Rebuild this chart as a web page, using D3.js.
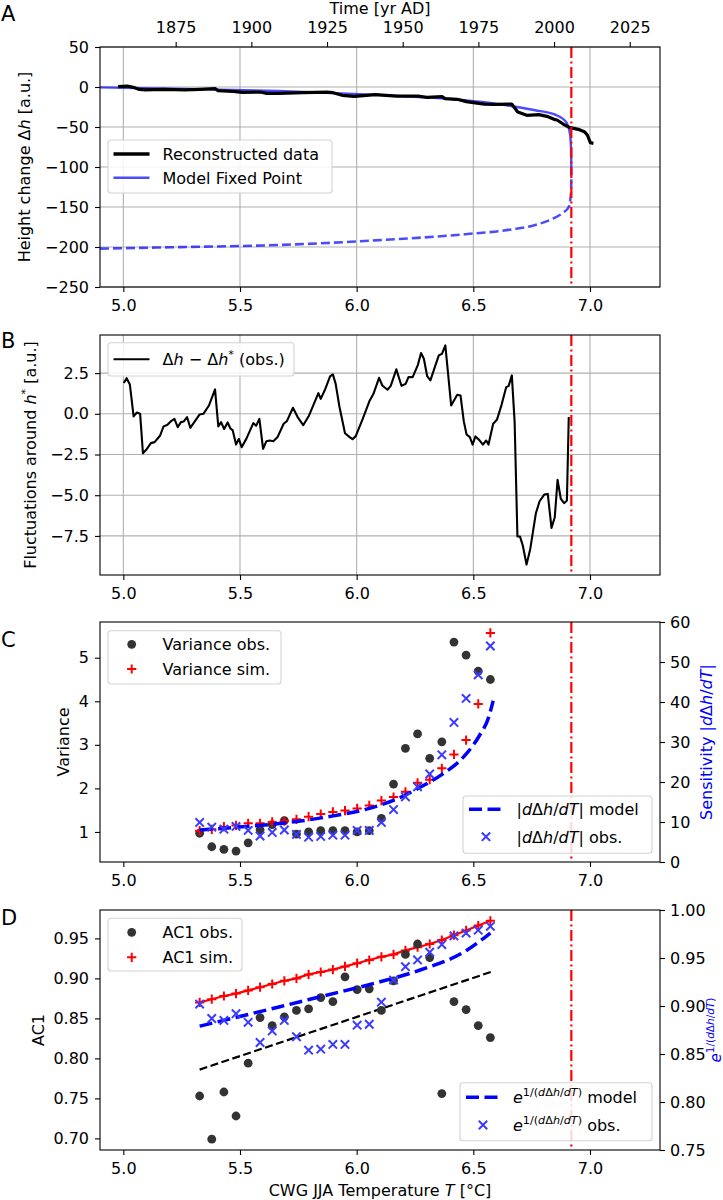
<!DOCTYPE html>
<html><head><meta charset="utf-8">
<script src="https://cdn.jsdelivr.net/npm/d3@7/dist/d3.min.js"></script>
<style>
body{margin:0;background:#fff;}
svg text{font-family:"DejaVu Sans",sans-serif;}
</style></head><body>
<svg id="fig" width="723" height="1200" xmlns="http://www.w3.org/2000/svg"></svg>
<script>
// ---------------- data ----------------
const tempTicks = [5.0, 5.5, 6.0, 6.5, 7.0];
const yearTicks = [1875, 1900, 1925, 1950, 1975, 2000, 2025];
const tippingT = 6.92;
const aTicks = [50, 0, -50, -100, -150, -200, -250];
const bTicks = [2.5, 0, -2.5, -5, -7.5];
const cTicksL = [1, 2, 3, 4, 5];
const cTicksR = [0, 10, 20, 30, 40, 50, 60];
const dTicksL = [0.70, 0.75, 0.80, 0.85, 0.90, 0.95];
const dTicksR = [0.75, 0.80, 0.85, 0.90, 0.95, 1.00];

// Panel A: reconstructed height change (vs. year, top axis)
const reconYear = [1856,1859,1861,1863,1865,1871,1878,1883,1888,1889,1894,1897,1903,1905,1909,1917,1925,1927,1930,1934,1937,1941,1948,1955,1958,1963,1964,1968,1971,1977,1980,1986,1988,1991,1995,1998,2000,2001,2003,2005,2008,2010,2011,2012,2013];
const reconDh = [0.4,1.2,-0.4,-3,-3.7,-3,-3.7,-3,-2,-4.6,-5.4,-6.7,-6.3,-7.9,-7.9,-7.1,-6.3,-7.1,-10.4,-11.7,-10.8,-9.6,-11.3,-11.3,-12.9,-12.1,-14.6,-15.4,-18.3,-21.3,-21.7,-21.3,-31.3,-35.4,-34.6,-37.1,-40.4,-41.3,-46.3,-50.4,-52.9,-55.8,-60,-69.6,-70.4];
// Panel A: model fixed point (vs. temperature)
const fpStableT = [4.9,5.267,5.667,6.066,6.266,6.465,6.565,6.665,6.765,6.845,6.885,6.905,6.915,6.919,6.92];
const fpStableH = [-0.5,-2.5,-5,-9.5,-12.5,-16.5,-19.5,-24,-29,-34,-40,-48,-60,-80,-105];
const fpUnstableT = [4.9,5.267,5.667,6.066,6.465,6.665,6.765,6.845,6.885,6.909,6.915,6.919,6.92];
const fpUnstableH = [-202,-200,-197.5,-192,-184,-178,-172.5,-164,-157,-150,-142,-130,-105];

// Panel B: fluctuations around fixed point
const flucT = [5.002,5.014,5.028,5.044,5.058,5.072,5.084,5.098,5.118,5.134,5.158,5.172,5.188,5.203,5.219,5.233,5.247,5.259,5.273,5.287,5.307,5.327,5.343,5.367,5.393,5.407,5.419,5.432,5.447,5.459,5.469,5.483,5.495,5.507,5.527,5.557,5.569,5.583,5.599,5.613,5.627,5.643,5.661,5.687,5.701,5.727,5.747,5.771,5.796,5.836,5.846,5.866,5.886,5.898,5.910,5.926,5.950,5.970,5.982,5.996,6.026,6.056,6.072,6.096,6.110,6.132,6.146,6.170,6.192,6.210,6.222,6.240,6.262,6.276,6.288,6.302,6.316,6.336,6.352,6.366,6.380,6.405,6.431,6.445,6.459,6.471,6.485,6.497,6.509,6.525,6.541,6.555,6.565,6.585,6.601,6.621,6.641,6.651,6.665,6.677,6.689,6.700,6.712,6.728,6.744,6.768,6.784,6.804,6.819,6.835,6.849,6.861,6.875,6.889,6.901,6.909];
const flucV = [1.89,2.19,1.80,-0.16,0.08,0.0,-2.42,-2.21,-1.80,-1.74,-1.33,-0.78,-0.68,-0.47,-0.31,-0.82,-0.51,-0.47,-0.20,-0.86,-0.45,-0.04,0.0,0.51,1.50,-0.78,-0.51,-0.94,-0.53,-0.90,-1.02,-1.89,-1.54,-2.05,-1.54,-0.57,-0.74,-0.31,-2.15,-1.68,-1.64,-1.68,-1.43,-0.61,-0.45,0.37,-0.20,-0.70,-0.10,1.27,0.92,1.54,2.30,2.42,1.84,0.45,-1.19,-1.43,-1.56,-1.37,-0.31,0.82,1.23,2.21,1.74,1.48,1.72,2.73,1.72,1.84,2.25,2.25,2.99,3.73,3.38,2.32,2.05,2.91,3.59,3.69,4.20,0.51,1.17,1.13,-0.45,-1.27,-1.43,-1.89,-1.39,-1.60,-1.89,-1.64,-1.89,-0.61,-0.37,0.55,1.64,1.70,2.36,-0.51,-7.54,-7.54,-8.09,-9.26,-8.30,-6.11,-5.37,-4.96,-4.92,-7.01,-6.35,-4.06,-5.23,-5.49,-5.33,-0.20];

// Panels C & D: sliding-window centre temperatures
const windowT = [5.327,5.379,5.431,5.483,5.535,5.586,5.638,5.690,5.742,5.794,5.846,5.898,5.950,6.002,6.054,6.106,6.158,6.209,6.261,6.313,6.365,6.417,6.469,6.521,6.573];
// Panel C
const varObs = [0.97,0.66,0.60,0.56,0.75,1.05,1.17,1.26,0.95,1.00,1.03,1.03,1.03,1.00,1.03,1.31,2.10,2.92,3.25,2.69,3.07,5.36,5.06,4.69,4.50];
const varSim = [1.03,1.06,1.12,1.15,1.20,1.20,1.23,1.25,1.29,1.35,1.41,1.46,1.49,1.54,1.61,1.72,1.80,1.92,2.13,2.20,2.46,2.78,3.11,3.94,5.57];
const sensObs = [9.9,8.7,8.2,8.9,7.9,6.5,7.4,8.0,6.9,6.2,6.4,6.7,6.7,7.9,7.9,9.9,13.1,16.3,18.8,22.0,26.8,34.9,40.9,46.8,54.0];
const sensModelT = [5.327,5.467,5.667,5.866,6.066,6.166,6.266,6.366,6.465,6.525,6.565,6.585];
const sensModel = [8.0,8.6,9.6,11.2,13.6,15.6,18.5,21.9,26.7,31.5,36.1,40.3];
// Panel D
const ac1Obs = [0.753,0.699,0.758,0.728,0.794,0.851,0.841,0.852,0.860,0.862,0.876,0.871,0.902,0.886,0.887,0.860,0.897,0.930,0.943,0.926,0.756,0.871,0.861,0.841,0.826];
const ac1Sim = [0.870,0.874,0.878,0.881,0.885,0.889,0.893,0.897,0.900,0.905,0.908,0.911,0.915,0.919,0.923,0.927,0.930,0.935,0.939,0.943,0.948,0.954,0.960,0.966,0.972];
const expObs = [0.902,0.887,0.885,0.892,0.883,0.862,0.874,0.885,0.868,0.854,0.855,0.860,0.860,0.880,0.881,0.904,0.927,0.941,0.948,0.956,0.964,0.973,0.976,0.979,0.983];
const expModelT = [5.327,5.667,5.866,6.066,6.266,6.465,6.573];
const expModel = [0.879,0.899,0.911,0.923,0.937,0.957,0.976];
const ac1FitT = [5.327,6.585];
const ac1Fit = [0.786,0.909];

// ---------------- layout ----------------
const FS = 16;
const L = 100, R = 660, PH = 240;
const tops = {A:47, B:335, C:622, D:910};
const svg = d3.select('#fig');
svg.append('rect').attr('width',723).attr('height',1200).attr('fill','#fff');

const x = d3.scaleLinear().domain([4.9,7.3]).range([L,R]);
const xYear = d3.scaleLinear().domain([1850,2035]).range([L,R]);
const yA = d3.scaleLinear().domain([-250,50]).range([tops.A+PH,tops.A]);
const yB = d3.scaleLinear().domain([-9.9,4.84]).range([tops.B+PH,tops.B]);
const yC = d3.scaleLinear().domain([0.31,5.82]).range([tops.C+PH,tops.C]);
const yC2 = d3.scaleLinear().domain([0,60]).range([tops.C+PH,tops.C]);
const yD = d3.scaleLinear().domain([0.6855,0.9855]).range([tops.D+PH,tops.D]);
const yD2 = d3.scaleLinear().domain([0.75,1.0]).range([tops.D+PH,tops.D]);

function styleAxis(g){
  g.attr('font-size',null).attr('font-family',null);
  g.select('.domain').remove();
  g.selectAll('.tick line').attr('stroke','#000').attr('stroke-width',1.1);
  g.selectAll('.tick text').attr('font-size',FS).attr('fill','#000');
}
function grid(top, y, yticks){
  const g = svg.append('g').attr('stroke','#b0b0b0').attr('stroke-width',1.1);
  g.selectAll('.gx').data(tempTicks).enter().append('line')
    .attr('x1',d=>x(d)).attr('x2',d=>x(d)).attr('y1',top).attr('y2',top+PH);
  g.selectAll('.gy').data(yticks).enter().append('line')
    .attr('x1',L).attr('x2',R).attr('y1',d=>y(d)).attr('y2',d=>y(d));
}
function bottomAxis(top){
  svg.append('g').attr('transform',`translate(0,${top+PH})`)
    .call(d3.axisBottom(x).tickValues(tempTicks).tickFormat(d3.format('.1f')).tickSize(5).tickPadding(8))
    .call(styleAxis);
}
function leftAxis(y, ticks, fmt){
  svg.append('g').attr('transform',`translate(${L},0)`)
    .call(d3.axisLeft(y).tickValues(ticks).tickFormat(d3.format(fmt)).tickSize(5).tickPadding(6))
    .call(styleAxis);
}
function rightAxis(y, ticks, fmt){
  svg.append('g').attr('transform',`translate(${R},0)`)
    .call(d3.axisRight(y).tickValues(ticks).tickFormat(d3.format(fmt)).tickSize(5).tickPadding(5))
    .call(styleAxis);
}
function frame(top){
  svg.append('rect').attr('x',L).attr('y',top).attr('width',R-L).attr('height',PH)
    .attr('fill','none').attr('stroke','#000').attr('stroke-width',1.1);
}
function tipLine(top){
  svg.append('line').attr('x1',x(tippingT)).attr('x2',x(tippingT)).attr('y1',top).attr('y2',top+PH)
    .attr('stroke','red').attr('stroke-width',2.2).attr('stroke-dasharray','11,3.5,2,3.5');
}
function rich(t, parts, fs){
  let up = false;
  for (const [s, st] of parts){
    const ts = t.append('tspan').text(s);
    if (st.indexOf('i') >= 0) ts.attr('font-style','italic');
    if (st.indexOf('s') >= 0){
      ts.attr('font-size', fs*0.7);
      if (!up){ ts.attr('dy', -fs*0.42); up = true; }
    } else {
      ts.attr('font-size', fs);
      if (up){ ts.attr('dy', fs*0.42); up = false; }
    }
  }
  return t;
}
function ylabel(xpos, top, parts, color, fs){
  fs = fs || FS;
  const t = svg.append('text').attr('transform',`translate(${xpos},${top+PH/2}) rotate(-90)`)
    .attr('text-anchor','middle').attr('font-size',fs).attr('fill',color||'#000');
  rich(t, parts, fs);
}
function panelLetter(s, ybase){
  svg.append('text').attr('x',1).attr('y',ybase).attr('font-size',21).text(s);
}
function legendBox(x0,y0,x1,y1){
  svg.append('rect').attr('x',x0).attr('y',y0).attr('width',x1-x0).attr('height',y1-y0)
    .attr('rx',3).attr('fill','#fff').attr('fill-opacity',0.85).attr('stroke','#d3d3d3').attr('stroke-width',1.1);
}
function legendText(xpos, yc, parts){
  const t = svg.append('text').attr('x',xpos).attr('y',yc+5.8).attr('font-size',FS);
  rich(t, parts, FS);
}
const plusPath = 'M-4.6,0H4.6M0,-4.6V4.6';
const crossPath = 'M-4.2,-4.2L4.2,4.2M-4.2,4.2L4.2,-4.2';
const dotColor = '#333333';
const xColor = '#3b3bff';
function dots(T, V, y){
  svg.append('g').selectAll('circle').data(T).enter().append('circle')
    .attr('cx',d=>x(d)).attr('cy',(d,i)=>y(V[i])).attr('r',4.4).attr('fill',dotColor);
}
function pluses(T, V, y){
  svg.append('g').selectAll('path').data(T).enter().append('path')
    .attr('transform',(d,i)=>`translate(${x(d)},${y(V[i])})`).attr('d',plusPath)
    .attr('stroke','red').attr('stroke-width',2).attr('fill','none');
}
function crosses(T, V, y){
  svg.append('g').selectAll('path').data(T).enter().append('path')
    .attr('transform',(d,i)=>`translate(${x(d)},${y(V[i])})`).attr('d',crossPath)
    .attr('stroke',xColor).attr('stroke-width',2).attr('fill','none');
}
function linePath(T, V, xs, y, curve){
  const idx = d3.range(T.length);
  return d3.line().x(i=>xs(T[i])).y(i=>y(V[i])).curve(curve||d3.curveLinear)(idx);
}

// ---------------- Panel A ----------------
grid(tops.A, yA, aTicks);
svg.append('path').attr('d',linePath(fpUnstableT,fpUnstableH,x,yA,d3.curveMonotoneX))
  .attr('fill','none').attr('stroke','blue').attr('stroke-opacity',0.7).attr('stroke-width',2.6).attr('stroke-dasharray','9,4');
svg.append('path').attr('d',linePath(fpStableT,fpStableH,x,yA,d3.curveMonotoneX))
  .attr('fill','none').attr('stroke','blue').attr('stroke-opacity',0.7).attr('stroke-width',2.4);
svg.append('path').attr('d',linePath(reconYear,reconDh,xYear,yA))
  .attr('fill','none').attr('stroke','#000').attr('stroke-width',3.2).attr('stroke-linejoin','round');
tipLine(tops.A);
leftAxis(yA, aTicks, 'd');
bottomAxis(tops.A);
svg.append('g').attr('transform',`translate(0,${tops.A})`)
  .call(d3.axisTop(xYear).tickValues(yearTicks).tickFormat(d3.format('d')).tickSize(5).tickPadding(9))
  .call(styleAxis);
frame(tops.A);
svg.append('text').attr('x',(L+R)/2).attr('y',13.5).attr('text-anchor','middle').attr('font-size',FS).text('Time [yr AD]');
ylabel(30, tops.A, [['Height change Δ','n'],['h','i'],[' [a.u.]','n']]);
panelLetter('A', 21);
legendBox(108,140,332,193);
svg.append('line').attr('x1',113.5).attr('x2',149.5).attr('y1',154).attr('y2',154).attr('stroke','#000').attr('stroke-width',3.6);
svg.append('line').attr('x1',113.5).attr('x2',149.5).attr('y1',177.7).attr('y2',177.7).attr('stroke','blue').attr('stroke-opacity',0.7).attr('stroke-width',2.4);
legendText(162.5,154,[['Reconstructed data','n']]);
legendText(162.5,177.7,[['Model Fixed Point','n']]);

// ---------------- Panel B ----------------
grid(tops.B, yB, bTicks);
svg.append('path').attr('d',linePath(flucT,flucV,x,yB))
  .attr('fill','none').attr('stroke','#000').attr('stroke-width',2.1).attr('stroke-linejoin','round');
tipLine(tops.B);
leftAxis(yB, bTicks, '.1f');
bottomAxis(tops.B);
frame(tops.B);
ylabel(35.5, tops.B, [['Fluctuations around ','n'],['h','i'],['*','s'],[' [a.u.]','n']]);
panelLetter('B', 348);
legendBox(108,342.7,294,376);
svg.append('line').attr('x1',113.5).attr('x2',149.5).attr('y1',359.3).attr('y2',359.3).attr('stroke','#000').attr('stroke-width',2.1);
legendText(162.5,359.3,[['Δ','n'],['h','i'],[' − Δ','n'],['h','i'],['*','s'],[' (obs.)','n']]);

// ---------------- Panel C ----------------
tipLine(tops.C);
dots(windowT, varObs, yC);
pluses(windowT, varSim, yC);
svg.append('path').attr('d',linePath(sensModelT,sensModel,x,yC2,d3.curveMonotoneX))
  .attr('fill','none').attr('stroke','blue').attr('stroke-width',3.5).attr('stroke-dasharray','13,5.5');
crosses(windowT, sensObs, yC2);
leftAxis(yC, cTicksL, 'd');
rightAxis(yC2, cTicksR, 'd');
bottomAxis(tops.C);
frame(tops.C);
ylabel(69, tops.C, [['Variance','n']]);
ylabel(712, tops.C, [['Sensitivity |','n'],['d','i'],['Δ','n'],['h','i'],['/','n'],['dT','i'],['|','n']], 'blue');
panelLetter('C', 646.7);
legendBox(108,630.7,281,684);
svg.append('circle').attr('cx',131.7).attr('cy',644.3).attr('r',4.4).attr('fill',dotColor);
svg.append('path').attr('transform','translate(131.7,669)').attr('d',plusPath).attr('stroke','red').attr('stroke-width',2).attr('fill','none');
legendText(162.5,644.3,[['Variance obs.','n']]);
legendText(162.5,669,[['Variance sim.','n']]);
legendBox(463,796,652,853.3);
svg.append('line').attr('x1',469).attr('x2',501).attr('y1',809.3).attr('y2',809.3).attr('stroke','blue').attr('stroke-width',3.5).attr('stroke-dasharray','13,5.5');
svg.append('path').attr('transform','translate(486,836.7)').attr('d',crossPath).attr('stroke',xColor).attr('stroke-width',2).attr('fill','none');
legendText(516.5,809.3,[['|','n'],['d','i'],['Δ','n'],['h','i'],['/','n'],['dT','i'],['| model','n']]);
legendText(516.5,836.7,[['|','n'],['d','i'],['Δ','n'],['h','i'],['/','n'],['dT','i'],['| obs.','n']]);

// ---------------- Panel D ----------------
tipLine(tops.D);
svg.append('path').attr('d',linePath(ac1FitT,ac1Fit,x,yD))
  .attr('fill','none').attr('stroke','#000').attr('stroke-width',2.2).attr('stroke-dasharray','8,3.5');
svg.append('path').attr('d',linePath(windowT,ac1Sim,x,yD))
  .attr('fill','none').attr('stroke','red').attr('stroke-width',2.2);
pluses(windowT, ac1Sim, yD);
dots(windowT, ac1Obs, yD);
svg.append('path').attr('d',linePath(expModelT,expModel,x,yD2,d3.curveMonotoneX))
  .attr('fill','none').attr('stroke','blue').attr('stroke-width',3.5).attr('stroke-dasharray','13,5.5');
crosses(windowT, expObs, yD2);
leftAxis(yD, dTicksL, '.2f');
rightAxis(yD2, dTicksR, '.2f');
bottomAxis(tops.D);
frame(tops.D);
ylabel(43.6, tops.D, [['AC1','n']]);
const eParts = [['e','i'],['1/(','s'],['d','si'],['Δ','s'],['h','si'],['/','s'],['dT','si'],[')','s']];
ylabel(720.5, tops.D, eParts, 'blue', 15);
panelLetter('D', 925);
legendBox(108,918.3,242,971);
svg.append('circle').attr('cx',131.7).attr('cy',932.3).attr('r',4.4).attr('fill',dotColor);
svg.append('path').attr('transform','translate(131.7,957.3)').attr('d',plusPath).attr('stroke','red').attr('stroke-width',2).attr('fill','none');
legendText(162.5,932.3,[['AC1 obs.','n']]);
legendText(162.5,957.3,[['AC1 sim.','n']]);
legendBox(460,1082.7,652,1140.7);
svg.append('line').attr('x1',466).attr('x2',498).attr('y1',1097.3).attr('y2',1097.3).attr('stroke','blue').attr('stroke-width',3.5).attr('stroke-dasharray','13,5.5');
svg.append('path').attr('transform','translate(483,1125)').attr('d',crossPath).attr('stroke',xColor).attr('stroke-width',2).attr('fill','none');
legendText(513,1097.3, eParts.concat([[' model','n']]));
legendText(513,1125, eParts.concat([[' obs.','n']]));
const xl = svg.append('text').attr('x',(L+R)/2).attr('y',1195.7).attr('text-anchor','middle').attr('font-size',FS);
rich(xl, [['CWG JJA Temperature ','n'],['T','i'],[' [°C]','n']], FS);
</script>
</body></html>
